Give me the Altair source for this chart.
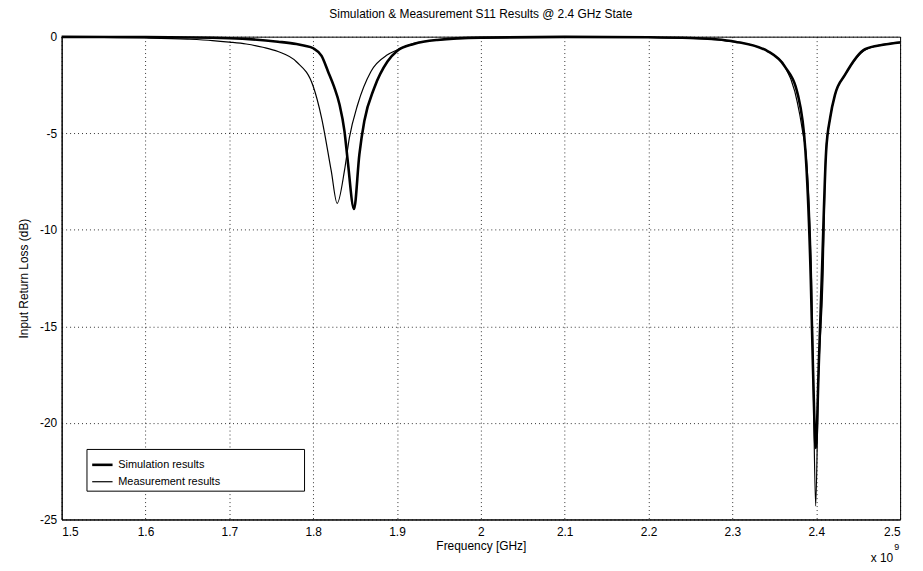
import altair as alt
import pandas as pd

# Simulation results (thick line) - frequency in GHz, S11 in dB
sim_f = [1.50, 1.60, 1.70, 1.758, 1.78, 1.79, 1.80, 1.81, 1.8177, 1.825, 1.8314, 1.8373, 1.8412,
         1.8487, 1.8551, 1.8610, 1.8728, 1.8886, 1.90, 1.92, 1.948, 2.00, 2.10,
         2.20, 2.25, 2.28, 2.3033, 2.3428, 2.3626, 2.378, 2.3871, 2.3935, 2.396,
         2.3995, 2.403, 2.4065, 2.4118, 2.4166, 2.4224, 2.4344, 2.4581, 2.48, 2.50]
sim_db = [-0.01, -0.02, -0.08, -0.26, -0.38, -0.47, -0.60, -1.0, -1.80, -2.6, -3.51, -4.89, -6.43,
          -8.92, -6.09, -4.37, -2.66, -1.29, -0.74, -0.38, -0.17, -0.05, -0.01,
          -0.03, -0.07, -0.13, -0.26, -0.77, -1.55, -3.0, -5.92, -12.6, -17.0,
          -21.3, -17.0, -12.6, -5.92, -4.2, -3.0, -1.97, -0.65, -0.42, -0.30]

# Measurement results (thin line)
mea_f = [1.50, 1.55, 1.60, 1.65, 1.68, 1.70, 1.72, 1.74, 1.758, 1.78, 1.80, 1.81,
         1.8215, 1.8286, 1.8373, 1.8432, 1.8531, 1.8689, 1.8886, 1.90, 1.92, 1.948,
         2.00, 2.05, 2.10, 2.15, 2.20, 2.25, 2.28, 2.30, 2.32, 2.3428, 2.3626,
         2.3744, 2.3803, 2.3843, 2.3875, 2.3945, 2.3965, 2.3993, 2.4025, 2.408,
         2.4115, 2.4166, 2.4224, 2.4344, 2.4581, 2.48, 2.50]
mea_db = [-0.02, -0.04, -0.07, -0.13, -0.20, -0.28, -0.38, -0.55, -0.77, -1.3, -2.57, -4.2,
          -6.94, -8.63, -6.94, -5.23, -3.51, -1.80, -0.94, -0.69, -0.35, -0.17,
          -0.06, -0.03, -0.02, -0.02, -0.04, -0.08, -0.15, -0.26, -0.40, -0.77, -1.55,
          -2.83, -4.03, -5.06, -5.92, -12.6, -18.0, -24.3, -18.0, -12.6,
          -5.92, -4.2, -3.0, -1.97, -0.69, -0.40, -0.28]

series_names = ["Simulation results", "Measurement results"]
x_ticks = [1.5, 1.6, 1.7, 1.8, 1.9, 2.0, 2.1, 2.2, 2.3, 2.4, 2.5]
y_ticks = [0, -5, -10, -15, -20, -25]

df = pd.concat([
    pd.DataFrame({"f": sim_f, "db": sim_db, "series": series_names[0]}),
    pd.DataFrame({"f": mea_f, "db": mea_db, "series": series_names[1]}),
])

W, H = 844, 486
FONT = "Liberation Sans"

grid_kw = dict(grid=True, gridColor="black", gridDash=[1, 3], gridOpacity=0.8,
               gridWidth=1, ticks=False, domainColor="black",
               labelFont=FONT, labelFontSize=12, labelColor="black",
               titleFont=FONT, titleFontSize=12, titleFontWeight="normal",
               titleColor="black")

lines = alt.Chart(df).mark_line(color="black", interpolate="monotone").encode(
    x=alt.X("f:Q", scale=alt.Scale(domain=[1.5, 2.5], nice=False, zero=False),
            axis=alt.Axis(values=x_ticks, format="~g", title="Frequency [GHz]",
                          labelPadding=7, titlePadding=3, **grid_kw)),
    y=alt.Y("db:Q", scale=alt.Scale(domain=[-25, 0], nice=False),
            axis=alt.Axis(values=y_ticks, labelExpr="'' + datum.value",
                          title="Input Return Loss (dB)",
                          labelPadding=5, titlePadding=9, **grid_kw)),
    strokeWidth=alt.StrokeWidth("series:O", sort=series_names,
                                scale=alt.Scale(domain=series_names, range=[2.6, 1.2]),
                                legend=alt.Legend(title=None, orient="none",
                                                  legendX=25, legendY=415,
                                                  symbolType="stroke",
                                                  symbolStrokeColor="black",
                                                  symbolSize=420,
                                                  labelFont=FONT, labelFontSize=11,
                                                  labelColor="black",
                                                  labelExpr="pad(datum.label, 29, '\u2800', 'right')",
                                                  labelLimit=400,
                                                  fillColor="white",
                                                  strokeColor="black",
                                                  padding=4, rowPadding=-6,
                                                  cornerRadius=0)),
    detail="series:N",
)

exp_df = pd.DataFrame({"x": [2.5], "t": ["x 10"], "s": ["9"]})
exp_main = alt.Chart(exp_df).mark_text(align="right", baseline="middle", dx=-7,
                                       font=FONT, fontSize=12, color="black").encode(
    x="x:Q", y=alt.value(H + 39), text="t:N")
exp_sup = alt.Chart(exp_df).mark_text(align="left", baseline="middle", dx=-6,
                                      font=FONT, fontSize=9, color="black").encode(
    x="x:Q", y=alt.value(H + 28), text="s:N")

chart = alt.layer(lines, exp_main, exp_sup).properties(
    width=W, height=H,
    title=alt.TitleParams("Simulation & Measurement S11 Results @ 2.4 GHz State",
                          font=FONT, fontSize=12, fontWeight="normal",
                          color="black", offset=10),
    autosize=alt.AutoSizeParams(type="none"),
    padding={"left": 54, "top": 27, "right": 15, "bottom": 50},
    background="white",
).configure_view(stroke="black", strokeWidth=1)

chart.save("out.html", embed_options={"renderer": "svg", "actions": False})
